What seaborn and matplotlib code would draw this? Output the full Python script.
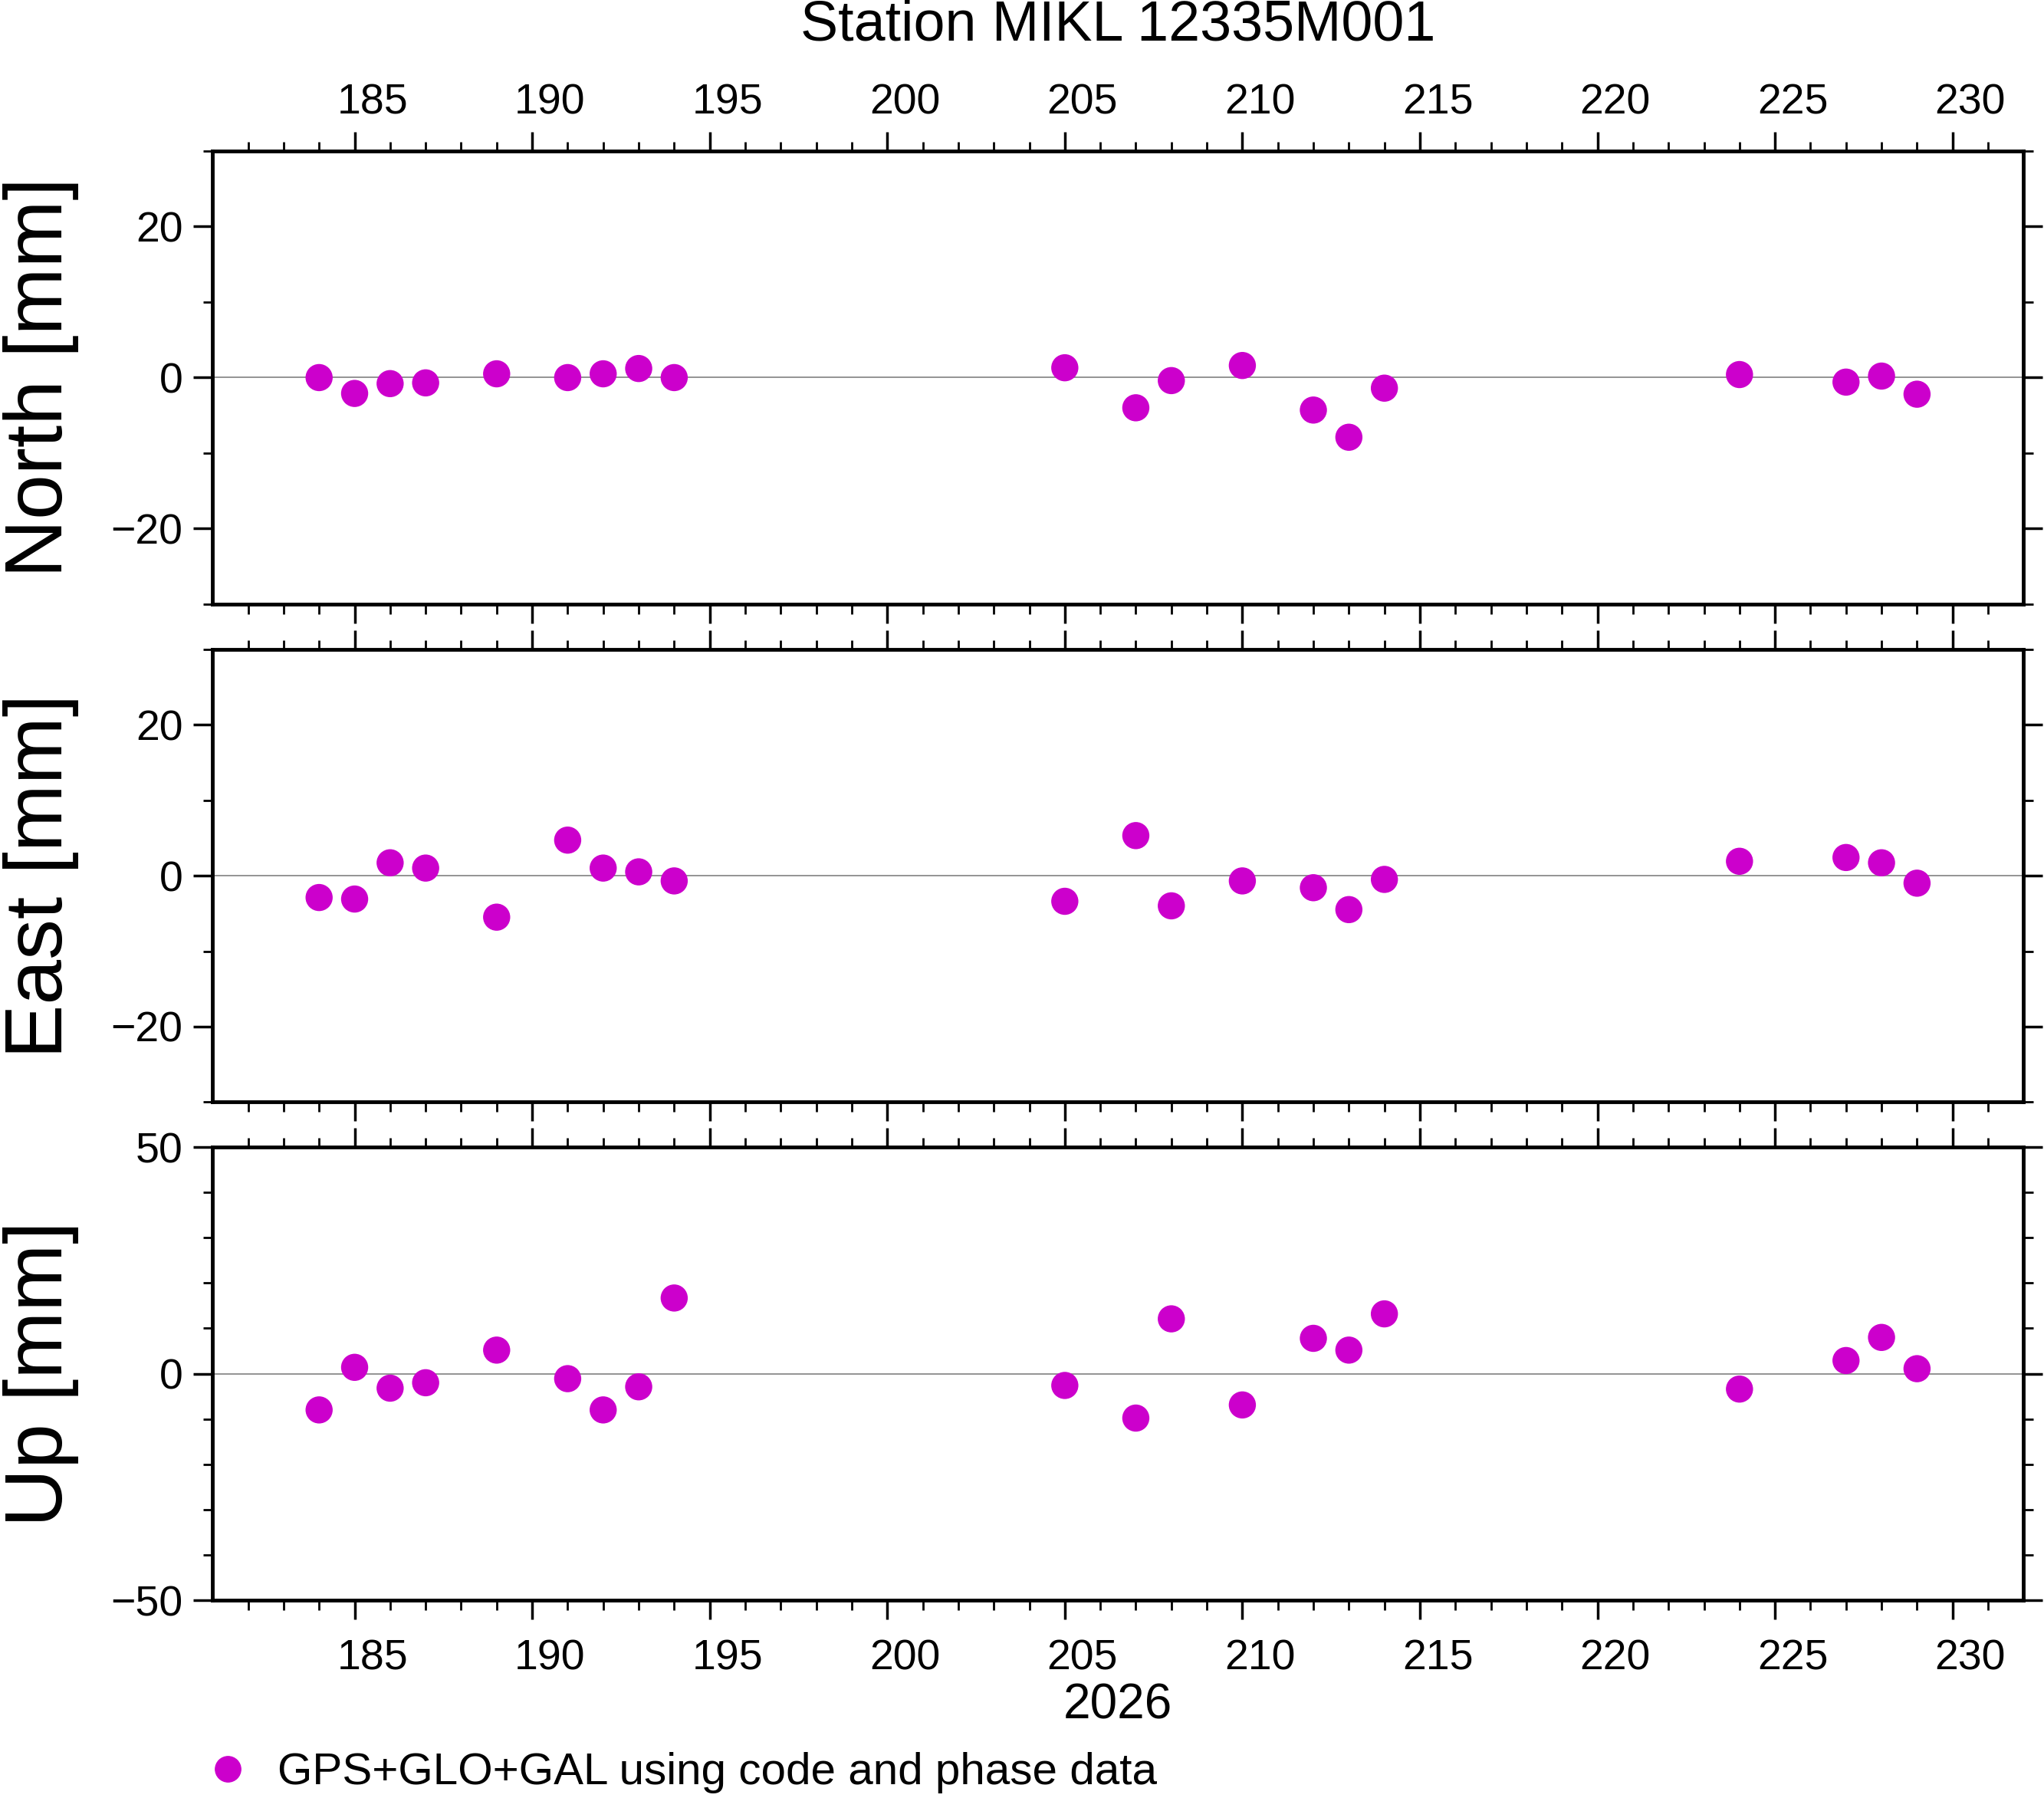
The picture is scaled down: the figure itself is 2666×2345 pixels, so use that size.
import numpy as np
import pandas as pd
import seaborn as sns
import matplotlib.pyplot as plt
from matplotlib.lines import Line2D

sns.set_theme(style="white")
plt.rcParams['font.family'] = ['Liberation Sans', 'DejaVu Sans']
plt.rcParams['text.color'] = 'black'
plt.rcParams['axes.labelcolor'] = 'black'
plt.rcParams['xtick.color'] = 'black'
plt.rcParams['ytick.color'] = 'black'

days = [184, 185, 186, 187, 189, 191, 192, 193, 194, 205, 207, 208, 210, 212, 213, 214, 224, 227, 228, 229]
north = [0.0, -2.1, -0.8, -0.7, 0.5, 0.0, 0.5, 1.2, 0.0, 1.3, -4.0, -0.4, 1.6, -4.3, -7.9, -1.4, 0.4, -0.6, 0.2, -2.2]
east = [-2.9, -3.1, 1.7, 1.0, -5.5, 4.7, 1.0, 0.5, -0.7, -3.4, 5.3, -4.0, -0.7, -1.6, -4.5, -0.5, 1.9, 2.4, 1.7, -1.0]
up = [-8.0, 1.4, -3.2, -2.0, 5.2, -1.1, -8.0, -2.9, 16.7, -2.6, -9.8, 12.1, -6.9, 7.8, 5.2, 13.2, -3.4, 2.9, 8.0, 1.1]

df = pd.DataFrame({'day': days, 'North': north, 'East': east, 'Up': up})
color = '#CC00CC'
label_days = np.arange(185, 231, 5)

fig = plt.figure(figsize=(26.66, 23.45), dpi=100)
panels = [('North', 0.664, 30, 20, 10), ('East', 0.387, 30, 20, 10), ('Up', 0.110, 50, 50, 10)]
for i, (name, bottom, lim, major, minor) in enumerate(panels):
    ax = fig.add_axes([0.104, bottom, 0.886, 0.252])
    ax.axhline(0, color='grey', lw=1.2, zorder=1)
    sns.scatterplot(data=df, x='day', y=name, ax=ax, color=color, s=650, edgecolor='none', zorder=3)
    ax.set_xlim(181, 232)
    ax.set_ylim(-lim, lim)
    ax.set_yticks(np.arange(-lim + (lim % major), lim + 0.1, major))
    ax.set_yticks(np.arange(-lim, lim + 0.1, minor), minor=True)
    ax.set_xticks(label_days)
    ax.set_xticks(np.arange(182, 232), minor=True)
    ax.set_xticklabels([])
    ax.tick_params(axis='both', which='major', direction='out', length=18, width=2.5,
                   top=True, bottom=True, left=True, right=True, labelsize=40, pad=10)
    ax.tick_params(axis='both', which='minor', direction='out', length=9, width=2,
                   top=True, bottom=True, left=True, right=True)
    ax.set_ylabel(name + ' [mm]', fontsize=76, labelpad=30)
    ax.set_xlabel('')
    for sp in ax.spines.values():
        sp.set_linewidth(3.5)
        sp.set_color('black')
    if i == 0:
        sec = ax.secondary_xaxis('top')
        sec.set_xticks(label_days + 0.5, [str(d) for d in label_days])
        sec.tick_params(length=0, labelsize=40, pad=26)
        sec.spines['top'].set_visible(False)
        ax.set_title('Station MIKL 12335M001', fontsize=53, pad=104)
    if i == 2:
        sec = ax.secondary_xaxis('bottom')
        sec.set_xticks(label_days + 0.5, [str(d) for d in label_days])
        sec.tick_params(length=0, labelsize=40, pad=36)
        sec.spines['bottom'].set_visible(False)
        sec.set_xlabel('2026', fontsize=46, labelpad=4)

handle = Line2D([], [], ls='none', marker='o', color=color, markersize=24)
fig.legend([handle], ['GPS+GLO+GAL using code and phase data'], loc='lower left',
           bbox_to_anchor=(0.07, -0.02), frameon=False, fontsize=42, handletextpad=0.1)

fig.savefig('out.png', dpi=100)
